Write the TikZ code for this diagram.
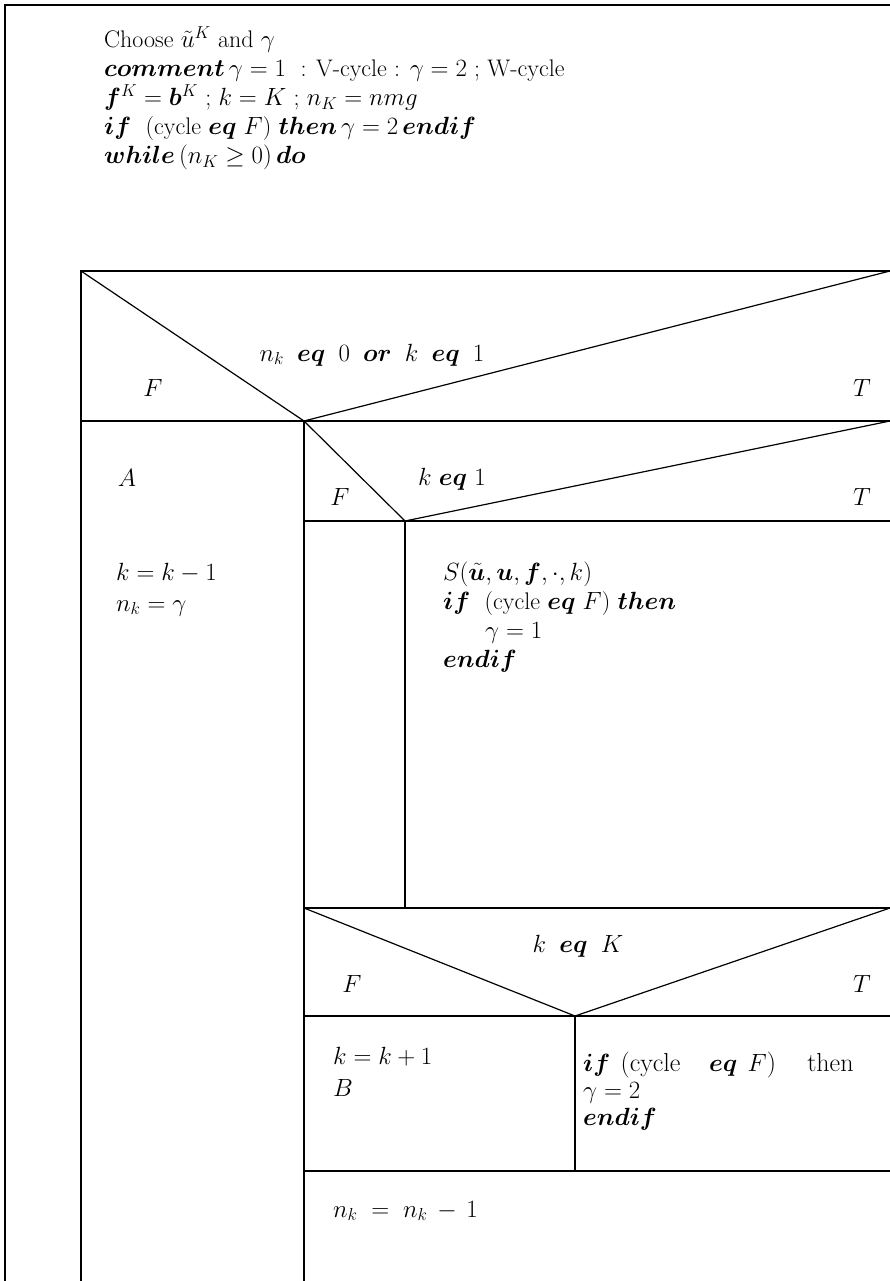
\documentclass[tikz,border=0pt]{standalone}
\usepackage{amsmath,bm}
\tikzset{
  ln/.style={line width=1.2pt, line cap=rect},
  txt/.style={anchor=base west, inner sep=0pt, font=\fontsize{24}{29}\selectfont},
  ctxt/.style={anchor=base, inner sep=0pt, font=\fontsize{24}{29}\selectfont},
  bigtxt/.style={anchor=base west, inner sep=0pt, font=\fontsize{26}{29}\selectfont}
}
\newcommand{\wsp}{\hspace{0.55em}}
\begin{document}
\begin{tikzpicture}[x=1pt,y=-1pt]
\useasboundingbox (0,0) rectangle (890,1281);
% outer frame
\draw[ln] (5,1281) -- (5,5) -- (890,5);
% inner box
\draw[ln] (81,1281) -- (81,271) -- (890,271);
% decision 1
\coordinate (d1a) at (304,421);
\draw[ln] (81,271) -- (d1a) -- (890,271);
\draw[ln] (81,421) -- (890,421);
\draw[ln] (d1a) -- (304,1281);
% decision 2
\coordinate (d2a) at (405,521);
\draw[ln] (d1a) -- (d2a) -- (890,421);
\draw[ln] (304,521) -- (890,521);
\draw[ln] (d2a) -- (405,908);
% decision 3
\coordinate (d3a) at (575,1016);
\draw[ln] (304,908) -- (890,908);
\draw[ln] (304,908) -- (d3a) -- (890,908);
\draw[ln] (304,1016) -- (890,1016);
\draw[ln] (d3a) -- (575,1171);
\draw[ln] (304,1171) -- (890,1171);
% header
\node[txt] (h1) at (104,48) {Choose $\tilde{u}^K$ and $\gamma$};
\node[txt] (h2) at (104,77) {$\boldsymbol{comment}\,\gamma=1$\ \ : V-cycle : $\gamma=2$ ; W-cycle};
\node[txt] (h3) at (104,106) {$\boldsymbol{f}^K=\boldsymbol{b}^K$ ; $k=K$ ; $n_K=nmg$};
\node[txt] (h4) at (104,135) {$\boldsymbol{if}$\ \ (cycle $\boldsymbol{eq}\ F$) $\boldsymbol{then}\,\gamma=2\,\boldsymbol{endif}$};
\node[txt] (h5) at (104,164) {$\boldsymbol{while}\,(n_K\ge 0)\,\boldsymbol{do}$};
% decision 1 texts
\node[ctxt] (c1) at (372,361) {$n_k\wsp\boldsymbol{eq}\wsp 0\wsp\boldsymbol{or}\wsp k\wsp\boldsymbol{eq}\wsp 1$};
\node[ctxt] (f1) at (153,396) {$F$};
\node[ctxt] (t1) at (862,396) {$T$};
\node[ctxt] (a1) at (127,486) {$A$};
\node[txt] (km) at (116,580) {$k=k-1$};
\node[txt] (ng) at (116,611) {$n_k=\gamma$};
% decision 2 texts
\node[txt] (c2) at (418,485) {$k\ \boldsymbol{eq}\ 1$};
\node[ctxt] (f2) at (340,505) {$F$};
\node[ctxt] (t2) at (862,505) {$T$};
\node[txt] (s1) at (443,580) {$S(\tilde{\boldsymbol{u}},\boldsymbol{u},\boldsymbol{f},\cdot,k)$};
\node[txt] (s2) at (443,609) {$\boldsymbol{if}$\ \ (cycle $\boldsymbol{eq}\ F$) $\boldsymbol{then}$};
\node[txt] (s3) at (485,638) {$\gamma=1$};
\node[txt] (s4) at (443,667) {$\boldsymbol{endif}$};
% decision 3 texts
\node[ctxt] (c3) at (578,952) {$k\wsp\boldsymbol{eq}\wsp K$};
\node[ctxt] (f3) at (352,992) {$F$};
\node[ctxt] (t3) at (862,992) {$T$};
\node[txt] (kp) at (333,1064) {$k=k+1$};
\node[txt] (bb) at (333,1096) {$B$};
\node[bigtxt] (r1) at (583,1071) {$\boldsymbol{if}$\hspace{0.4em}(cycle\hspace{1.1em}$\boldsymbol{eq}\hspace{0.4em}F$)\hspace{1.2em}then};
\node[bigtxt] (r2) at (583,1098) {$\gamma=2$};
\node[bigtxt] (r3) at (583,1125) {$\boldsymbol{endif}$};
\node[txt] (nn) at (333,1217) {$n_k\mathrel{\;=\;}n_k\mathbin{\,-\,}1$};
\end{tikzpicture}
\end{document}
